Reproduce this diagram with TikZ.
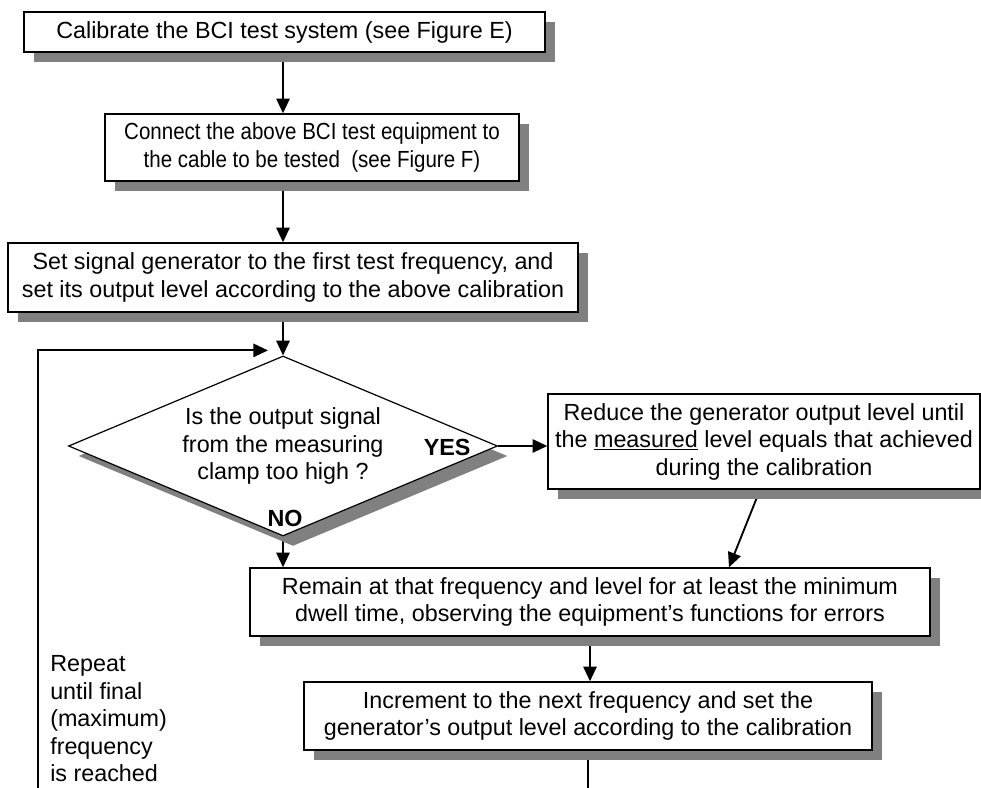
\documentclass[tikz,border=0pt]{standalone}
\usepackage{fontspec}
\setmainfont{Liberation Sans}
\newfontfamily\narrowfont[FakeStretch=0.88]{Liberation Sans}
\usepackage{tikz}
\usetikzlibrary{arrows.meta, calc, shadows, shapes.geometric, backgrounds}
\def\pxl{0.75pt}

\tikzset{
	box/.style={draw, line width=1.1pt, fill=white, align=center, inner sep=0pt,
		font=\fontsize{17.5}{20.6}\selectfont,
		drop shadow={shadow xshift=7.5pt, shadow yshift=-7.5pt, fill=gray, opacity=1}},
	query/.style={box, diamond, line width=0.9pt, aspect=2.37},
	answer/.style={font=\fontsize{17.5}{20.6}\selectfont\bfseries, inner sep=0pt},
	arr/.style={line width=1.4pt, -{Triangle[length=11pt, width=10pt]}},
	plain/.style={line width=1.4pt}
}

\begin{document}
\begin{tikzpicture}[x=0.75pt, y=-0.75pt]
	\useasboundingbox (0,0) rectangle (981,788);
	\coordinate (spine) at (283,0);
	\coordinate (bottom) at (0,788);
	\coordinate (loopfoot) at (38,788);

	\node[box, minimum width=521*\pxl, minimum height=40*\pxl] (calib) at (284.5,32)
		{Calibrate the BCI test system (see Figure E)};
	\node[box, font=\narrowfont\fontsize{17.5}{20.6}\selectfont, minimum width=414*\pxl, minimum height=67*\pxl] (connect) at (312,147.5)
		{Connect the above BCI test equipment to\\the cable to be tested~~(see Figure F)};
	\node[box, minimum width=570*\pxl, minimum height=69*\pxl] (setgen) at (293,277.5)
		{Set signal generator to the first test frequency, and\\set its output level according to the above calibration};
	\node[query, minimum width=429*\pxl, minimum height=180*\pxl] (query) at (283,446)
		{Is the output signal\\from the measuring\\clamp too high ?};
	\node[answer] (yes) at ($ (query.east)+(-51,1) $) {YES};
	\node[answer] (no) at ($ (query.south)+(2,-18) $) {NO};
	\node[box, minimum width=432*\pxl, minimum height=95*\pxl] (reduce) at (764,441.5)
		{Reduce the generator output level until\\the \underline{measured} level equals that achieved\\during the calibration};
	\node[box, minimum width=680*\pxl, minimum height=68*\pxl] (remain) at (590,602)
		{Remain at that frequency and level for at least the minimum\\dwell time, observing the equipment’s functions for errors};
	\node[box, minimum width=568*\pxl, minimum height=68*\pxl] (incr) at (588,716)
		{Increment to the next frequency and set the\\generator’s output level according to the calibration};
	\node[font=\fontsize{17.5}{20.6}\selectfont, align=left, anchor=west, inner sep=0pt] (repeat) at (50,719)
		{Repeat\\until final\\(maximum)\\frequency\\is reached};

	\coordinate (looptip) at ($ (query.north)+(-15,-5) $);
	\coordinate (landing) at ($ (remain.north)+(139,0) $);

	\begin{scope}[on background layer]
		\draw[arr] (spine |- calib.south) -- (spine |- connect.north);
		\draw[arr] (spine |- connect.south) -- (spine |- setgen.north);
		\draw[arr] (spine |- setgen.south) -- (query.north);
		\draw[arr] (query.east) -- (query.east -| reduce.west);
		\draw[arr] (query.south) -- (query.south |- remain.north);
		\draw[arr] ($ (reduce.south)+(-4,0) $) -- (landing);
		\draw[arr] (remain.south) -- (remain.south |- incr.north);
		\draw[plain] (incr.south) -- (incr.south |- bottom);
		\draw[arr] (loopfoot) |- (looptip);
	\end{scope}
\end{tikzpicture}
\end{document}
